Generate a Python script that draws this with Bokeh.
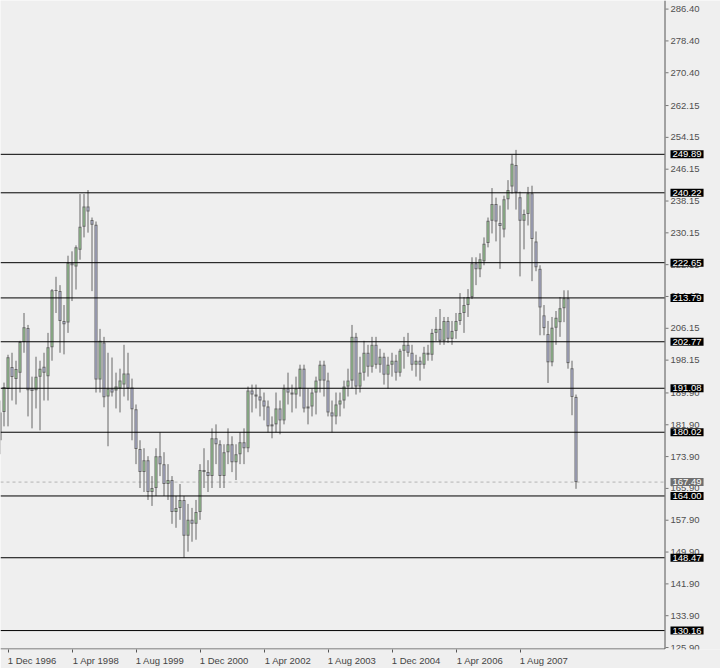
from bokeh.plotting import figure
from bokeh.models import Range1d, FixedTicker, ColumnDataSource
from bokeh.core.properties import value
from bokeh.embed import file_html
from bokeh.resources import INLINE

# Monthly candles, Oct 1996 .. Oct 2008 (index 0 = Oct 1996)
opens = [178, 185.1, 190.9, 196.4, 193.4, 195, 202.7, 206.2, 191.1, 190.6, 194, 196.5,
         194.1, 201.4, 215.7, 215.5, 208, 207.6, 222.6, 221.7, 225.9, 231.7, 236.8, 233.4,
         232.2, 193.3, 202.6, 189, 191, 190.5, 191, 192, 194.8, 191.3, 185.8, 175.8,
         170, 173, 165, 166, 174, 172, 167, 168, 160, 161, 163, 154,
         158, 157, 160, 170.5, 170, 169, 178.5, 177, 169, 175, 177, 172.5,
         174.5, 177.5, 176, 190.5, 189.5, 189, 188, 186.5, 181.5, 182, 186, 183,
         191, 190, 189.5, 191, 196, 186, 186.5, 190, 193, 197, 193, 185,
         184, 187, 188, 191.5, 193, 204, 191.5, 195, 200, 196.5, 202, 197,
         199, 194.5, 197, 198, 195, 200.5, 202, 200, 197, 198, 197, 200,
         199.5, 205, 206, 203, 208, 203.5, 205.5, 208, 210, 212, 214, 222.5,
         221, 223, 227.6, 233.2, 237.4, 232.6, 231, 238.6, 241.8, 247.2, 239.1, 233.2,
         234.9, 240.1, 228, 221.1, 209.4, 204.7, 197.6, 206.3, 207.7, 211.2, 213.7, 196.1,
         188.9]
highs = [188, 192.5, 199.5, 200, 198, 203, 210, 207, 194, 199, 198, 200,
         205, 216, 219.1, 217, 212, 224.4, 225.5, 227, 239.9, 239.9, 240.9, 234,
         233, 206, 204, 200, 198.8, 195, 196, 202, 200, 193.5, 187, 178,
         176, 174, 169, 176, 180, 175, 172, 169, 164, 167, 164, 162,
         161, 163, 172, 176, 173, 181, 182, 178, 177, 181, 179, 177,
         180, 181, 191.5, 192, 192, 191, 190, 188, 184, 190, 188, 192,
         195, 192, 194, 197, 197, 191, 191, 194, 198, 198, 195, 188,
         190, 190, 193, 196, 207, 205, 199, 203, 202, 204, 204, 201,
         200, 199, 200, 199.5, 201, 204, 205, 202, 199.5, 199, 201.5, 202,
         206, 209, 211, 209, 209, 208, 210, 215, 214, 216, 224, 224,
         225, 229, 234, 241.4, 239, 237, 239.5, 243.4, 249.7, 251, 240.5, 236,
         241.7, 242, 230.5, 222, 212, 208, 209, 210.5, 214, 215.7, 215.7, 198,
         189.5]
lows = [174.5, 181.5, 181.5, 188, 187, 190, 200, 184, 181, 186, 180.5, 188,
        188, 198, 210, 200, 199.6, 205, 213, 215.9, 223.4, 229, 230.2, 215.5,
        190, 190, 186.3, 176.5, 189, 186, 185, 189, 188, 178, 172, 166,
        165, 163, 161.5, 164, 169, 164, 163, 157, 156, 158, 148.5, 150,
        152.5, 153, 158, 166, 165, 166, 172, 166, 166, 172, 170, 168,
        172, 172, 175, 185, 186, 184, 183, 180, 178.5, 180, 179.5, 182,
        187, 185, 186, 189, 185, 182, 184, 184.5, 190, 189, 184, 180,
        182, 184, 186, 189, 191, 189.5, 190, 193, 194, 195, 196, 195,
        192, 191, 194, 193, 194, 196, 199, 195.5, 194, 193, 196, 198,
        198, 203, 202, 202, 202.5, 202, 203.5, 207, 205, 209, 213.5, 217,
        219, 222, 226.5, 230, 228, 221.1, 229, 236, 240, 236, 219.2, 226,
        232, 218, 220.5, 204.4, 204.4, 192.4, 196.6, 202, 204, 207.7, 196, 184.3,
        165.8]
closes = [185, 191.4, 198.9, 193.9, 195.9, 202.7, 206.4, 190.6, 190.4, 194, 196, 195,
          201.4, 215.7, 215.5, 208, 207.2, 222.6, 222, 226.5, 231.7, 236.8, 235.5, 232.2,
          193.3, 203, 188.8, 191, 190, 191.5, 193, 194.8, 191, 185.8, 175.8, 170,
          173, 165, 166, 174, 172, 167, 168, 160, 161, 163, 154, 158,
          157, 160, 170.5, 170, 169, 178.5, 177, 169, 175, 177, 172.5, 174.5,
          177.5, 176, 190.5, 189.5, 189, 188, 186.5, 181.5, 182, 186, 183, 191,
          190, 189.5, 191, 196, 186, 186.5, 190, 193, 197, 193, 185, 184,
          187, 188, 191.5, 193, 204, 191.5, 195, 200, 196.5, 202, 197, 199,
          194.5, 197, 198, 195, 200.5, 202, 200, 197, 198, 197, 200, 199.5,
          205, 206, 203, 208, 203.5, 205.5, 208, 210, 212, 214, 222.5, 221,
          223.5, 227.4, 233.2, 237.4, 233, 231.9, 238.6, 240.9, 247.5, 240.3, 233.2, 234.9,
          240.1, 228.6, 221.5, 211.4, 206.2, 197.6, 206.3, 208.8, 211.2, 213.7, 197.4, 188.9,
          167.49]

level_values = [249.89, 240.22, 222.65, 213.79, 202.77, 191.08, 180.02, 164.00, 148.47, 130.16]
current_price = 167.49
price_ticks = [286.40, 278.40, 270.40, 262.15, 254.15, 246.15, 238.15, 230.15, 222.15,
               214.15, 206.15, 198.15, 189.90, 181.90, 173.90, 165.90, 157.90, 149.90,
               141.90, 133.90, 125.90]
date_tick_months = [2, 18, 34, 50, 66, 82, 98, 114, 130]
date_tick_labels = ["1 Dec 1996", "1 Apr 1998", "1 Aug 1999", "1 Dec 2000", "1 Apr 2002",
                    "1 Aug 2003", "1 Dec 2004", "1 Apr 2006", "1 Aug 2007"]

BULL = "#a4e29e"
BEAR = "#c3c8f0"
EDGE = "#666666"
BG = "#efefef"
AXIS = "#555555"
FONT = "Liberation Sans"
FS = "9.5px"

# layout: 4 px per month, frame covers the full width (price scale drawn inside)
PX = 4.0
X0 = 0.125
W, H = 720, 668
FRAME_H = 651
Y_TOP = 288.56
PPU = 3.99                      # pixels per price unit
Y_BOT = Y_TOP - FRAME_H / PPU
ONE = 1.0 / PPU                 # one pixel in price units


def xd(px):
    return X0 + px / PX


def yd(py):
    return Y_TOP - py / PPU


idx = list(range(len(opens)))
tops = [max(o, c) for o, c in zip(opens, closes)]
bots = [min(o, c) for o, c in zip(opens, closes)]
outer_top = [max(t, b + ONE) for t, b in zip(tops, bots)]
src = ColumnDataSource(dict(
    x=idx, high=highs, low=lows, top=outer_top, bottom=bots,
))
inner = [(i, t - ONE, b + ONE, BULL if c >= o else BEAR)
         for i, t, b, o, c in zip(idx, tops, bots, opens, closes) if t - b > 2.2 * ONE]
src_in = ColumnDataSource(dict(
    x=[r[0] for r in inner], top=[r[1] for r in inner],
    bottom=[r[2] for r in inner], color=[r[3] for r in inner],
))

p = figure(width=W, height=H, output_backend="svg", toolbar_location=None,
           x_range=Range1d(xd(0), xd(W)), y_range=Range1d(Y_BOT, Y_TOP),
           x_axis_location="below", y_axis_location=None,
           min_border_left=0, min_border_top=0, min_border_right=0,
           min_border_bottom=H - FRAME_H)
p.background_fill_color = BG
p.border_fill_color = BG
p.outline_line_color = None
p.grid.visible = False

# x axis (below): tick marks as minor ticks, labels left-aligned via shifted majors
shift = 6.0
xa = p.xaxis[0]
major = [m + shift for m in date_tick_months]
xa.ticker = FixedTicker(ticks=major, minor_ticks=date_tick_months)
xa.major_label_overrides = {t: lab for t, lab in zip(major, date_tick_labels)}
xa.axis_line_color = None
xa.major_tick_line_color = None
xa.minor_tick_line_color = AXIS
xa.minor_tick_out = 3
xa.minor_tick_in = 0
xa.major_tick_out = 3
xa.major_tick_in = 0
xa.major_label_standoff = 2
xa.major_label_text_font = FONT
xa.major_label_text_font_size = FS
xa.major_label_text_color = "#444444"

x_left, x_right = xd(0), xd(664)

# chart frame lines (bottom and right)
p.segment(x0=[x_left], y0=[yd(650.5)], x1=[xd(664.5)], y1=[yd(650.5)], line_color=AXIS, line_width=1)
p.segment(x0=[xd(664.5)], y0=[Y_TOP], x1=[xd(664.5)], y1=[yd(650.5)], line_color=AXIS, line_width=1)

# price scale: tick marks and labels
p.segment(x0=[xd(665)] * len(price_ticks), y0=price_ticks,
          x1=[xd(668)] * len(price_ticks), y1=price_ticks, line_color="#777777", line_width=1)
p.text(x=[xd(670)] * len(price_ticks), y=price_ticks, text=[f"{t:.2f}" for t in price_ticks],
       text_font=value(FONT), text_font_size=FS, text_color="#505050",
       text_baseline="middle", text_align="left")

# current price dashed line
p.segment(x0=[x_left], y0=[current_price], x1=[x_right], y1=[current_price],
          line_color="#b4b4b4", line_width=1, line_dash="3 3")

# candles: wick, outlined body (outer dark rect + inner coloured fill)
p.segment(x0="x", y0="low", x1="x", y1="high", source=src, line_color=EDGE, line_width=1)
p.vbar(x="x", width=3 / PX, top="top", bottom="bottom", source=src,
       fill_color=EDGE, line_color=None)
p.vbar(x="x", width=1 / PX, top="top", bottom="bottom", source=src_in,
       fill_color="color", line_color=None)

# horizontal levels
n = len(level_values)
p.segment(x0=[x_left] * n, y0=level_values, x1=[x_right] * n, y1=level_values,
          line_color="black", line_width=1)

# level labels
p.text(x=[xd(670)] * n, y=level_values, text=[f"{v:.2f}" for v in level_values],
       text_font=value(FONT), text_font_size=FS, text_color="white",
       text_baseline="middle", text_align="left",
       background_fill_color="black", padding=(2, 1))
p.text(x=[xd(670)], y=[current_price], text=[f"{current_price:.2f}"],
       text_font=value(FONT), text_font_size=FS, text_color="white",
       text_baseline="middle", text_align="left",
       background_fill_color="#6f6f6f", padding=(2, 1))

open("out.html", "w").write(file_html(p, INLINE))
